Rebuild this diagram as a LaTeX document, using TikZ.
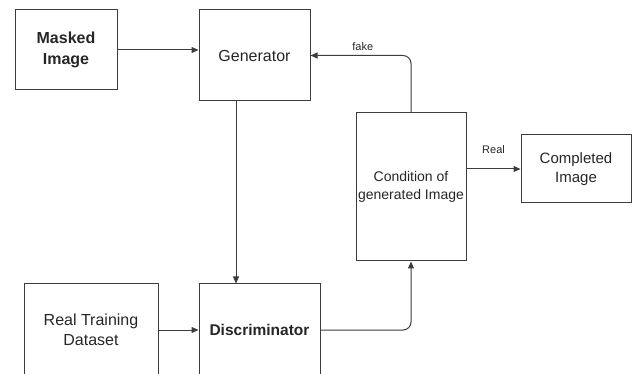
\documentclass[tikz,border=0pt]{standalone}
\usepackage{fontspec}
\setmainfont{Liberation Sans}
\usetikzlibrary{arrows.meta}

\definecolor{linegray}{HTML}{3C3C3C}
\definecolor{textgray}{HTML}{262626}

\tikzset{
  blockbox/.style={draw=linegray, line width=1pt, rectangle, align=center,
    text=textgray, inner sep=1pt, font=\fontsize{16}{20}\selectfont},
  condbox/.style={blockbox, font=\fontsize{14}{18}\selectfont},
  flow/.style={draw=linegray, line width=1pt, -{Triangle[length=7pt,width=6pt]}},
  edgelabel/.style={text=textgray, font=\fontsize{11}{12}\selectfont}
}

\begin{document}
\begin{tikzpicture}[x=1pt, y=-1pt]
  \useasboundingbox (0,0) rectangle (635,374);
  \clip (0,0) rectangle (635,374);

  \node[blockbox, minimum width=102pt, minimum height=80pt, font=\bfseries\fontsize{16}{21}\selectfont] (masked) at (66,50) {Masked\\Image};
  \node[blockbox, minimum width=111pt, minimum height=91pt] (gen) at (254.5,55.5) {Generator};
  \node[condbox, minimum width=110pt, minimum height=148pt] (cond) at (411,187) {Condition of\\generated Image};
  \node[blockbox, minimum width=110pt, minimum height=68pt, font=\fontsize{15}{19}\selectfont] (comp) at (576,169) {Completed\\Image};
  \node[blockbox, minimum width=134pt, minimum height=92pt] (data) at (91,330) {Real Training\\Dataset};
  \node[blockbox, minimum width=121pt, minimum height=92pt, font=\bfseries\fontsize{15.5}{19}\selectfont] (disc) at (259.5,330) {Discriminator};

  \draw[flow] (masked.east) -- (masked.east -| gen.west);
  \draw[flow] ([xshift=-18.5pt]gen.south) -- ([xshift=-18.5pt]gen.south |- disc.north);
  \draw[flow] (data.east) -- (disc.west);
  \draw[flow, rounded corners=8pt] (disc.east) -| (cond.south);
  \draw[flow, rounded corners=8pt] (cond.north) |- node[edgelabel, above=1pt, pos=0.74] {fake} (gen.east);
  \draw[flow] (cond.east |- comp.west) -- node[edgelabel, above=12pt] {Real} (comp.west);
\end{tikzpicture}
\end{document}
